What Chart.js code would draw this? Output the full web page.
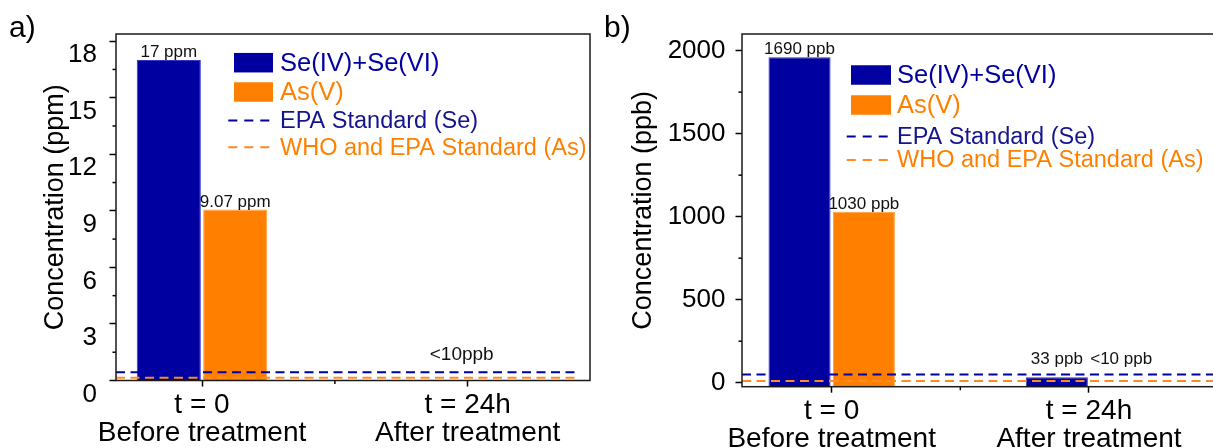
<!DOCTYPE html>
<html lang="en">
<head>
  <meta charset="UTF-8" />
  <title>Se / As concentration</title>
  <script src="https://cdn.jsdelivr.net/npm/chart.js"></script>
  <style>
    html, body { margin: 0; padding: 0; background: #fff; overflow: hidden; width: 1213px; height: 448px; }
    canvas { position: absolute; top: 0; }
    #chartA { left: 0; }
    #chartB { left: 600px; }
  </style>
</head>
<body>
  <canvas id="chartA" width="600" height="448"></canvas>
  <canvas id="chartB" width="620" height="448"></canvas>

  <script>
    // shared
    const categories = [['t = 0', 'Before treatment'], ['t = 24h', 'After treatment']];
    const categoryPos = [0, 1];
    const seriesNames = ['Se(IV)+Se(VI)', 'As(V)'];
    const standardNames = ['EPA Standard (Se)', 'WHO and EPA Standard (As)'];

    // panel a (ppm)
    const seA = [17, 0.033];
    const asA = [9.07, 0.008];
    const stdA = [0.44, 0.15];
    const seLabelsA = ['17 ppm', ''];
    const asLabelsA = ['9.07 ppm', ''];
    const groupLabelsA = ['', '<10ppb'];
    const yTicksA = [0, 3, 6, 9, 12, 15, 18];

    // panel b (ppb)
    const seB = [1960, 33];
    const asB = [1030, null];
    const stdB = [50, 10];
    const seLabelsB = ['1690 ppb', '33 ppb'];
    const asLabelsB = ['1030 ppb', '<10 ppb'];
    const groupLabelsB = ['', ''];
    const yTicksB = [0, 500, 1000, 1500, 2000];

    const FONT = "'Liberation Sans', Arial, sans-serif";
    const BLUE = '#0000a0';
    const ORANGE = '#ff8000';

    // legend drawn inside the plot, uneven rows like the original
    const boxLegend = {
      id: 'boxLegend',
      afterDraw(chart, args, o) {
        const ctx = chart.ctx, a = chart.chartArea;
        const x = a.left + o.x;
        ctx.save();
        ctx.textBaseline = 'middle';
        ctx.textAlign = 'left';
        chart.data.datasets.forEach((ds, i) => {
          const y = a.top + o.rows[i];
          if (ds.type === 'line') {
            ctx.strokeStyle = ds.borderColor;
            ctx.lineWidth = 2;
            ctx.setLineDash([9, 7]);
            ctx.beginPath();
            ctx.moveTo(x + o.dashFrom, y);
            ctx.lineTo(x + o.boxW, y);
            ctx.stroke();
            ctx.setLineDash([]);
            ctx.font = '23.5px ' + FONT;
          } else {
            ctx.fillStyle = ds.backgroundColor;
            ctx.fillRect(x, y - o.boxH / 2, o.boxW, o.boxH);
            ctx.font = '25.5px ' + FONT;
          }
          ctx.fillStyle = ds.textColor;
          ctx.fillText(ds.label, x + o.textDx, y + 1);
        });
        ctx.restore();
      }
    };

    const valueLabels = {
      id: 'valueLabels',
      afterDatasetsDraw(chart, args, o) {
        const ctx = chart.ctx, ys = chart.scales.y, xs = chart.scales.x;
        const stdTop = Math.min(...chart.data.datasets
          .filter(d => d.type === 'line')
          .map(d => ys.getPixelForValue(d.data[0].y)));
        ctx.save();
        ctx.font = '17px ' + FONT;
        ctx.fillStyle = '#111';
        ctx.textAlign = 'center';
        ctx.textBaseline = 'alphabetic';
        chart.data.datasets.forEach((ds, i) => {
          if (!ds.valueLabels) return;
          const meta = chart.getDatasetMeta(i);
          ds.valueLabels.forEach((t, j) => {
            if (!t) return;
            const bar = meta.data[j];
            const top = ds.data[j].y == null ? ys.bottom : bar.y;
            ctx.fillText(t, bar.x, Math.min(top - 3, stdTop - 10));
          });
        });
        ctx.font = '19px ' + FONT;
        o.groupLabels.forEach((t, j) => {
          if (t) ctx.fillText(t, xs.getPixelForValue(categoryPos[j]) - 6, stdTop - 12);
        });
        ctx.restore();
      }
    };

    // minor ticks halfway between major ones, plus the box round the plot
    const frame = {
      id: 'frame',
      afterDraw(chart, args, o) {
        const ctx = chart.ctx, a = chart.chartArea;
        ctx.save();
        ctx.strokeStyle = '#000';
        ctx.lineWidth = 1.5;
        ['x', 'y'].forEach(id => {
          const s = chart.scales[id], t = s.ticks;
          for (let k = 0; k < t.length - 1; k++) {
            const p = s.getPixelForValue((t[k].value + t[k + 1].value) / 2);
            ctx.beginPath();
            if (id === 'x') { ctx.moveTo(p, a.bottom); ctx.lineTo(p, a.bottom + 3.5); }
            else { ctx.moveTo(a.left, p); ctx.lineTo(a.left - 3.5, p); }
            ctx.stroke();
          }
        });
        ctx.strokeStyle = '#1a1a1a';
        ctx.strokeRect(a.left, a.top, a.right - a.left, a.bottom - a.top);
        ctx.font = '30px ' + FONT;
        ctx.fillStyle = '#000';
        ctx.textBaseline = 'alphabetic';
        ctx.fillText(o.letter, o.letterX, 37);
        ctx.restore();
      }
    };

    function makeChart(id, p) {
      const pts = vals => vals.map((v, i) => ({ x: categoryPos[i], y: v }));
      const barDs = (label, vals, color, edge, labels) => ({
        type: 'bar', label, data: pts(vals), backgroundColor: color, textColor: color,
        borderColor: edge, borderWidth: 1, base: p.yMin, order: 1,
        categoryPercentage: 0.5, barPercentage: 0.965, valueLabels: labels
      });
      const lineDs = (label, v, color, textColor) => ({
        type: 'line', label, data: [{ x: p.xMin, y: v }, { x: p.lineEnd, y: v }],
        borderColor: color, textColor, borderWidth: 2, borderDash: [9, 5.5],
        pointRadius: 0, fill: false, order: 0
      });

      return new Chart(document.getElementById(id), {
        type: 'bar',
        data: {
          datasets: [
            barDs(seriesNames[0], p.se, BLUE, '#3333c8', p.seLabels),
            barDs(seriesNames[1], p.as, ORANGE, '#ffa040', p.asLabels),
            lineDs(standardNames[0], p.std[0], BLUE, '#14148c'),
            lineDs(standardNames[1], p.std[1], '#ff8a1f', ORANGE)
          ]
        },
        options: {
          responsive: false,
          animation: false,
          devicePixelRatio: 1,
          layout: { padding: { top: 34, right: p.padRight, left: 0, bottom: 0 } },
          plugins: {
            legend: { display: false },
            tooltip: { enabled: false },
            boxLegend: p.legend,
            valueLabels: { groupLabels: p.groupLabels },
            frame: { letter: p.letter, letterX: p.letterX }
          },
          scales: {
            x: {
              type: 'linear', min: p.xMin, max: p.xMax, offset: false,
              afterBuildTicks: s => { s.ticks = categoryPos.map(v => ({ value: v })); },
              afterFit: s => { s.height = p.xHeight; },
              border: { display: false },
              grid: { offset: false, drawOnChartArea: false, drawTicks: true, tickLength: 6, tickWidth: 1.5, tickColor: '#000' },
              ticks: {
                autoSkip: false, maxRotation: 0, padding: p.xPad, color: '#000',
                font: { family: FONT, size: 28, lineHeight: 1.0 },
                callback: (v, i) => categories[i]
              }
            },
            y: {
              min: p.yMin, max: p.yMax,
              afterBuildTicks: s => { s.ticks = p.yTicks.map(v => ({ value: v })); },
              afterFit: s => { s.width = p.yWidth; },
              border: { display: false },
              grid: { drawOnChartArea: false, drawTicks: true, tickLength: 6.5, tickWidth: 1.5, tickColor: '#000' },
              ticks: {
                padding: p.yPad, labelOffset: p.labelOffset, color: '#000',
                font: { family: FONT, size: 26 },
                callback: v => String(v)
              },
              title: {
                display: true, text: p.title, color: '#000',
                font: { family: FONT, size: 27, lineHeight: 1.2 },
                padding: { top: p.titlePad, bottom: 0 }
              }
            }
          }
        },
        plugins: [valueLabels, boxLegend, frame]
      });
    }

    makeChart('chartA', {
      se: seA, as: asA, std: stdA, seLabels: seLabelsA, asLabels: asLabelsA, groupLabels: groupLabelsA,
      yTicks: yTicksA, yMin: 0, yMax: 18.38, xMin: -0.3237, xMax: 1.4603, lineEnd: 1.411,
      title: 'Concentration (ppm)', letter: 'a)', letterX: 9,
      yWidth: 116, xHeight: 67.5, padRight: 10, xPad: 4.5, yPad: 12.5, labelOffset: 14, titlePad: 39,
      legend: { x: 118, textDx: 46, boxW: 39, boxH: 19.5, dashFrom: -5.7, rows: [28.7, 58, 86.5, 113.3] }
    });

    makeChart('chartB', {
      se: seB, as: asB, std: stdB, seLabels: seLabelsB, asLabels: asLabelsB, groupLabels: groupLabelsB,
      yTicks: yTicksB, yMin: -24, yMax: 2100, xMin: -0.3486, xMax: 1.4897, lineEnd: 1.4897,
      title: 'Concentration (ppb)', letter: 'b)', letterX: 4,
      yWidth: 142, xHeight: 61.3, padRight: 5, xPad: 4.5, yPad: 10, labelOffset: 0, titlePad: 27,
      legend: { x: 109, textDx: 46, boxW: 40, boxH: 19.5, dashFrom: -4.3, rows: [41, 71, 102.5, 126] }
    });
  </script>
</body>
</html>
